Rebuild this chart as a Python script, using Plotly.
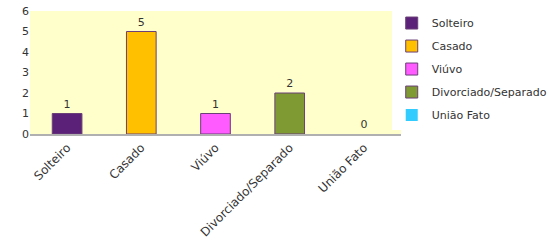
import plotly.graph_objects as go

categories = ["Solteiro", "Casado", "Viúvo", "Divorciado/Separado", "União Fato"]
values = [1, 5, 1, 2, 0]
colors = ["#5B2078", "#FFC000", "#FF5BFF", "#7F9933", "#33CCFF"]

fig = go.Figure()
for i, (c, v, col) in enumerate(zip(categories, values, colors)):
    fig.add_trace(go.Bar(
        x=[c], y=[v], name=c, marker_color=col,
        marker_line=dict(color="#6B3F78", width=1 if v > 0 else 0),
        width=0.4, text=[str(v)], textposition="outside",
        textfont=dict(color="#333333", size=11, family="DejaVu Sans"),
        cliponaxis=False, legendgroup=c,
    ))

fig.update_layout(
    width=550, height=244,
    margin=dict(l=30, r=149, t=11, b=110, autoexpand=False),
    plot_bgcolor="#FFFFCC", paper_bgcolor="white",
    barmode="overlay", showlegend=True,
    font=dict(family="DejaVu Sans", size=11, color="#333333"),
    legend=dict(x=0.975, y=1.02, xanchor="left", yanchor="top",
                font=dict(size=11, color="#333333"), tracegroupgap=4,
                itemwidth=30),
    xaxis=dict(categoryorder="array", categoryarray=categories,
               tickangle=-45, showgrid=False, showline=True,
               linecolor="#B0B0B0", linewidth=2, ticks="",
               tickfont=dict(size=12), automargin=False),
    yaxis=dict(range=[0, 6], dtick=1, showgrid=False, zeroline=False,
               ticks="", tickfont=dict(size=11), automargin=False),
)

fig.write_html("out.html", post_script="document.body.style.margin='0';",
               config={"displayModeBar": False})
